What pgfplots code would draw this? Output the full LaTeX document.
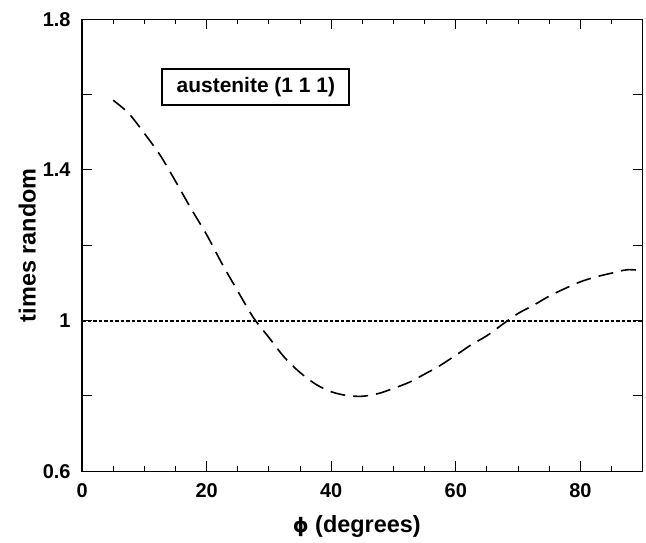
\documentclass[border=0pt]{standalone}
\usepackage{pgfplots}
\pgfplotsset{compat=1.18}
\usepackage{fontspec}
\setmainfont{Liberation Sans}
\newfontfamily\dejavu{DejaVu Sans}
\begin{document}
\begin{tikzpicture}
\begin{axis}[
  scale only axis,
  width=560bp, height=451.4bp,
  xmin=0, xmax=90, ymin=0.6, ymax=1.8,
  xtick={0,20,40,60,80},
  minor xtick={5,10,15,25,30,35,45,50,55,65,70,75,85},
  ytick={0.6,0.8,1,1.2,1.4,1.6,1.8},
  yticklabels={0.6,,1,,1.4,,1.8},
  tick align=inside,
  tick pos=both,
  major tick length=10bp,
  minor tick length=5bp,
  tick style={line width=1bp, black},
  axis line style={line width=1.4bp},
  /pgf/number format/assume math mode=true,
  ticklabel style={font=\bfseries\fontsize{20}{24}\selectfont},
  xticklabel style={yshift=-8.5bp},
  yticklabel style={xshift=-8bp},
  xlabel={{\dejavu\fontsize{20}{24}\selectfont ϕ} (degrees)},
  ylabel={times random},
  label style={font=\bfseries\fontsize{23.5}{28}\selectfont},
  xlabel style={at={(axis description cs:0.49,-0.136)}, anchor=base},
  ylabel style={at={(axis description cs:-0.098,0.5)}, anchor=center},
  clip=false,
]
\addplot[black, line width=1.6bp, dash pattern=on 15bp off 8bp, smooth, tension=0.5] coordinates {
(5,1.585) (7.5,1.55) (10,1.497) (12.5,1.44) (15,1.37) (17.5,1.297)
(20,1.228) (22.5,1.15) (25,1.078) (27.5,1.008) (30,0.955) (32.5,0.902)
(35,0.862) (37.5,0.831) (40,0.811) (42.5,0.801) (45,0.799) (47.5,0.806)
(50,0.820) (52.5,0.836) (55,0.858) (57.5,0.881) (60,0.908) (62.5,0.936)
(65,0.960) (67.5,0.990) (70,1.019) (72.5,1.041) (75,1.065) (77.5,1.085)
(80,1.103) (82.5,1.116) (85,1.126) (87.5,1.135) (90,1.133)
};
\addplot[black, line width=2bp, dash pattern=on 3.5bp off 2bp] coordinates {(0,1) (90,1)};
\node[draw, line width=2bp, minimum width=187bp, minimum height=36bp, inner sep=0pt,
  font=\bfseries\fontsize{21}{25}\selectfont, fill=white] at (axis cs:27.9,1.62) {austenite (1 1 1)};
\end{axis}
\path ([shift={(-82bp,-71.3bp)}]current axis.south west) rectangle ([shift={(3.3bp,19.3bp)}]current axis.north east);
\end{tikzpicture}
\end{document}
